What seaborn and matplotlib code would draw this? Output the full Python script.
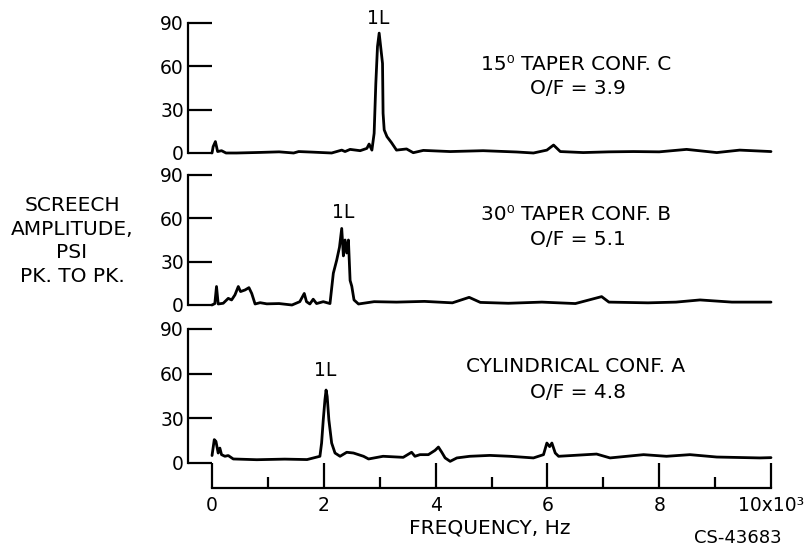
import matplotlib
matplotlib.use("Agg")
import matplotlib.pyplot as plt
import seaborn as sns
from matplotlib.ticker import MultipleLocator

# frequency in kHz (x10^3 Hz), screech amplitude in psi pk-to-pk
freq_c = [0.0, 0.02, 0.06, 0.1, 0.17, 0.25, 0.44, 0.86, 1.2, 1.46, 1.55, 1.8, 2.14, 2.32,
          2.38, 2.47, 2.65, 2.77, 2.81, 2.86, 2.9, 2.93, 2.96, 2.99, 3.02, 3.05, 3.06,
          3.08, 3.13, 3.21, 3.3, 3.48, 3.6, 3.78, 4.26, 4.85, 5.45, 5.75, 5.99, 6.11,
          6.23, 6.64, 7.1, 7.54, 8.0, 8.49, 9.03, 9.44, 10.0]
amp_c = [0.0, 4.4, 7.9, 1.0, 1.6, 0.0, 0.0, 0.4, 0.8, 0.0, 1.0, 0.6, 0.0, 2.0,
         1.0, 2.5, 1.6, 3.2, 6.2, 2.0, 13.6, 48.0, 73.7, 83.0, 72.5, 62.0, 27.5,
         16.0, 11.3, 7.2, 2.0, 2.8, 0.2, 1.8, 1.0, 1.6, 0.7, 0.0, 2.0, 5.5,
         1.0, 0.3, 0.8, 1.0, 0.8, 2.5, 0.3, 2.0, 1.0]

freq_b = [0.0, 0.05, 0.08, 0.11, 0.2, 0.29, 0.35, 0.41, 0.47, 0.51, 0.59, 0.66, 0.71,
          0.77, 0.86, 0.98, 1.2, 1.43, 1.57, 1.65, 1.69, 1.75, 1.81, 1.87, 1.99, 2.11,
          2.17, 2.23, 2.28, 2.32, 2.35, 2.38, 2.41, 2.44, 2.47, 2.5, 2.54, 2.62, 2.9,
          3.3, 3.8, 4.3, 4.6, 4.8, 5.3, 5.9, 6.5, 6.97, 7.1, 7.8, 8.3, 8.73, 9.3, 10.0]
amp_b = [0.0, 1.0, 12.8, 0.7, 1.2, 4.6, 3.5, 7.0, 12.8, 9.3, 10.4, 12.0, 8.0,
         0.7, 1.6, 0.8, 1.0, 0.0, 2.3, 8.0, 2.3, 0.7, 4.0, 1.0, 2.3, 1.0,
         22.0, 31.0, 40.0, 53.0, 34.0, 45.0, 36.0, 45.0, 17.0, 13.0, 3.5, 0.7, 2.3,
         2.0, 2.5, 1.5, 5.3, 1.8, 1.2, 2.0, 1.0, 5.8, 2.0, 1.5, 2.0, 3.5, 2.0, 2.0]

freq_a = [0.0, 0.04, 0.07, 0.11, 0.14, 0.17, 0.23, 0.29, 0.38, 0.8, 1.3, 1.7, 1.93,
          1.96, 1.99, 2.02, 2.04, 2.06, 2.09, 2.14, 2.2, 2.29, 2.41, 2.53, 2.71, 2.8,
          3.06, 3.42, 3.57, 3.63, 3.72, 3.87, 3.99, 4.05, 4.11, 4.17, 4.26, 4.38, 4.61,
          4.97, 5.33, 5.75, 5.93, 5.99, 6.04, 6.08, 6.14, 6.2, 6.88, 7.12, 7.72, 8.13,
          8.55, 9.03, 9.8, 10.0]
amp_a = [5.0, 15.7, 14.5, 6.7, 10.0, 5.6, 4.5, 5.0, 2.7, 2.2, 2.6, 2.3, 4.5,
         13.4, 29.0, 42.5, 49.0, 44.7, 29.0, 13.4, 6.7, 4.5, 7.2, 6.7, 4.5, 2.7,
         4.5, 3.8, 7.2, 4.5, 5.6, 5.6, 8.5, 10.7, 7.2, 3.4, 1.1, 3.4, 4.5,
         5.1, 4.5, 3.4, 5.6, 13.4, 11.0, 13.4, 6.7, 4.5, 6.0, 3.4, 5.6, 4.5,
         5.6, 4.0, 3.4, 3.6]

panel_titles = ["15\u2070 TAPER CONF. C", "30\u2070 TAPER CONF. B", "CYLINDRICAL CONF. A"]
panel_of = ["O/F = 3.9", "O/F = 5.1", "O/F = 4.8"]
amp_ticks = [0, 30, 60, 90]
freq_major = [0, 2, 4, 6, 8, 10]
freq_labels = ["0", "2", "4", "6", "8", "10x10\u00b3"]

W, H = 808, 550


def fx(x):
    return x / W


def fy(y):
    return 1 - y / H


sns.set_style("ticks")
plt.rcParams["font.family"] = ["DejaVu Sans"]
plt.rcParams["font.size"] = 13
for key in ["text.color", "axes.labelcolor", "axes.edgecolor", "xtick.color", "ytick.color"]:
    plt.rcParams[key] = "black"

fig = plt.figure(figsize=(W / 100, H / 100), dpi=100)

x_left, x_right = 188, 771
xlim = (-0.43, 10.0)
# (pixel of 90, pixel of 0 / bottom) for each panel
rects = [(23, 153), (175, 305), (329, 488)]
series = [(freq_c, amp_c), (freq_b, amp_b), (freq_a, amp_a)]

axes = []
for i, ((top, bot), (f, a)) in enumerate(zip(rects, series)):
    ax = fig.add_axes([fx(x_left), fy(bot), (x_right - x_left) / W, (bot - top) / H])
    sns.lineplot(x=f, y=a, ax=ax, color="black", linewidth=2.0, estimator=None,
                 sort=False)
    for ln in ax.lines:
        ln.set_clip_on(False)
    ax.set_xlim(*xlim)
    if i < 2:
        ax.set_ylim(0, 90)
        ax.spines["bottom"].set_visible(False)
        ax.set_xticks([])
    else:
        ax.set_ylim(-16.8, 90)
        ax.spines["bottom"].set_bounds(0, 10)
        ax.spines["bottom"].set_linewidth(1.6)
        ax.set_xticks(freq_major)
        ax.set_xticklabels(freq_labels)
        ax.xaxis.set_minor_locator(MultipleLocator(1))
        ax.tick_params(axis="x", which="major", direction="in", length=18, width=1.6,
                       pad=6, labelsize=13.5)
        ax.tick_params(axis="x", which="minor", direction="in", length=8, width=1.6)
    ax.spines["top"].set_visible(False)
    ax.spines["right"].set_visible(False)
    ax.spines["left"].set_bounds(0, 90)
    ax.spines["left"].set_linewidth(1.6)
    ax.set_yticks(amp_ticks)
    ax.tick_params(axis="y", direction="in", length=17, width=1.6, pad=3, labelsize=13.5)
    ax.set_xlabel("")
    ax.set_ylabel("")
    ax.patch.set_alpha(0)
    axes.append(ax)

# mode labels above the peaks
fig.text(fx(378), fy(18), "1L", ha="center", va="center", fontsize=13.5)
fig.text(fx(343), fy(212), "1L", ha="center", va="center", fontsize=13.5)
fig.text(fx(325), fy(370), "1L", ha="center", va="center", fontsize=13.5)

# configuration notes
note_y = [(64, 88), (215, 240), (367, 392)]
for (y1, y2), t, o in zip(note_y, panel_titles, panel_of):
    fig.text(fx(576), fy(y1), t, ha="center", va="center", fontsize=14.5)
    fig.text(fx(578), fy(y2), o, ha="center", va="center", fontsize=14.5)

fig.text(fx(72), fy(241), "SCREECH\nAMPLITUDE,\nPSI\nPK. TO PK.", ha="center",
         va="center", fontsize=14.5, linespacing=1.33)
fig.text(fx(490), fy(528), "FREQUENCY, Hz", ha="center", va="center", fontsize=14.5)
fig.text(fx(738), fy(538), "CS-43683", ha="center", va="center", fontsize=13)

fig.savefig("out.png", dpi=100)
